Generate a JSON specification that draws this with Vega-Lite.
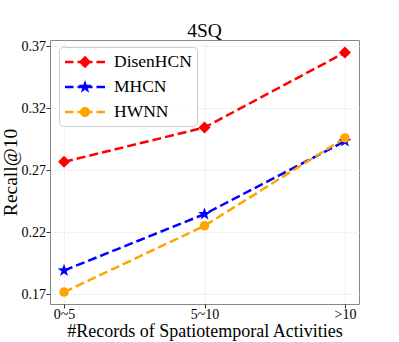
{
  "$schema": "https://vega.github.io/schema/vega-lite/v6.json",
  "width": 309,
  "height": 264,
  "autosize": {"type": "none"},
  "padding": {"left": 50, "top": 40, "right": 40, "bottom": 38},
  "background": "white",
  "title": {"text": "4SQ", "font": "Liberation Serif", "fontSize": 19.5, "fontWeight": "normal", "color": "black", "offset": -2, "anchor": "middle"},
  "config": {
    "view": {"stroke": "#888", "strokeWidth": 1},
    "font": "Liberation Serif",
    "axis": {"domain": false, "grid": true, "gridColor": "#dddddd", "gridDash": [2, 2], "gridWidth": 0.8, "tickColor": "#333", "tickSize": 4, "labelFont": "Liberation Serif", "labelFontSize": 14, "labelColor": "black", "titleFont": "Liberation Serif", "titleFontWeight": "normal", "titleColor": "black"}
  },
  "data": {
    "values": [
      {"cat": "0~5", "model": "DisenHCN", "recall": 0.2767},
      {"cat": "5~10", "model": "DisenHCN", "recall": 0.3044},
      {"cat": ">10", "model": "DisenHCN", "recall": 0.3649},
      {"cat": "0~5", "model": "MHCN", "recall": 0.189},
      {"cat": "5~10", "model": "MHCN", "recall": 0.2345},
      {"cat": ">10", "model": "MHCN", "recall": 0.2934},
      {"cat": "0~5", "model": "HWNN", "recall": 0.1716},
      {"cat": "5~10", "model": "HWNN", "recall": 0.2251},
      {"cat": ">10", "model": "HWNN", "recall": 0.296}
    ]
  },
  "encoding": {
    "x": {"field": "cat", "type": "nominal", "sort": ["0~5", "5~10", ">10"], "scale": {"padding": 0.1},
      "axis": {"title": "#Records of Spatiotemporal Activities", "titleFontSize": 18, "labelAngle": 0, "labelPadding": -1, "titleBaseline": "alphabetic", "titleY": 32}},
    "y": {"field": "recall", "type": "quantitative", "scale": {"domain": [0.162, 0.375], "nice": false, "zero": false},
      "axis": {"title": "Recall@10", "titleFontSize": 19.5, "values": [0.17, 0.22, 0.27, 0.32, 0.37], "format": ".2f", "labelPadding": 0.5, "titleBaseline": "alphabetic", "titleX": -34}},
    "color": {"field": "model", "type": "nominal", "scale": {"domain": ["DisenHCN", "MHCN", "HWNN"], "range": ["#ff0000", "#0000ff", "#ffa500"]},
      "legend": {
        "title": null, "orient": "none", "legendX": 9, "legendY": 7, "padding": 5,
        "strokeColor": "#cccccc", "fillColor": "rgba(255,255,255,0.85)", "cornerRadius": 4,
        "labelFont": "Liberation Serif", "labelFontSize": 17.5, "labelColor": "black",
        "symbolSize": 400, "symbolOffset": 11, "symbolStrokeWidth": 0, "labelOffset": 19, "rowPadding": 6,
        "encode": {"symbols": {"update": {
          "shape": {"signal": "datum.value === 'DisenHCN' ? 'M-2,-0.125H-1.15V0.125H-2ZM-0.75,-0.125H0.75V0.125H-0.75ZM1.15,-0.125H2V0.125H1.15ZM-0.62,0L0,-0.62L0.62,0L0,0.62Z' : datum.value === 'MHCN' ? 'M-2,-0.125H-1.15V0.125H-2ZM-0.75,-0.125H0.75V0.125H-0.75ZM1.15,-0.125H2V0.125H1.15ZM0,-0.7L0.165,-0.227L0.666,-0.216L0.266,0.087L0.411,0.566L0,0.28L-0.411,0.566L-0.266,0.087L-0.666,-0.216L-0.165,-0.227Z' : 'M-2,-0.125H-1.15V0.125H-2ZM-0.75,-0.125H0.75V0.125H-0.75ZM1.15,-0.125H2V0.125H1.15ZM-0.5,0A0.5,0.5,0,1,1,0.5,0A0.5,0.5,0,1,1,-0.5,0Z'"},
          "size": {"value": 400},
          "fill": {"scale": "color", "field": "value"},
          "stroke": {"value": "transparent"},
          "strokeDash": {"value": []},
          "opacity": {"value": 1}
        }}}
      }}
  },
  "layer": [
    {
      "mark": {"type": "line", "strokeWidth": 2.5, "strokeDash": [9, 4]}
    },
    {
      "transform": [{"filter": "datum.model === 'DisenHCN'"}],
      "mark": {"type": "point", "filled": true, "opacity": 1, "shape": "diamond", "size": 144}
    },
    {
      "transform": [{"filter": "datum.model === 'MHCN'"}],
      "mark": {"type": "point", "filled": true, "opacity": 1, "shape": "M0,-1L0.236,-0.325L0.951,-0.309L0.38,0.124L0.588,0.809L0,0.4L-0.588,0.809L-0.38,0.124L-0.951,-0.309L-0.236,-0.325Z", "size": 180}
    },
    {
      "transform": [{"filter": "datum.model === 'HWNN'"}],
      "mark": {"type": "point", "filled": true, "opacity": 1, "shape": "circle", "size": 90}
    }
  ]
}
